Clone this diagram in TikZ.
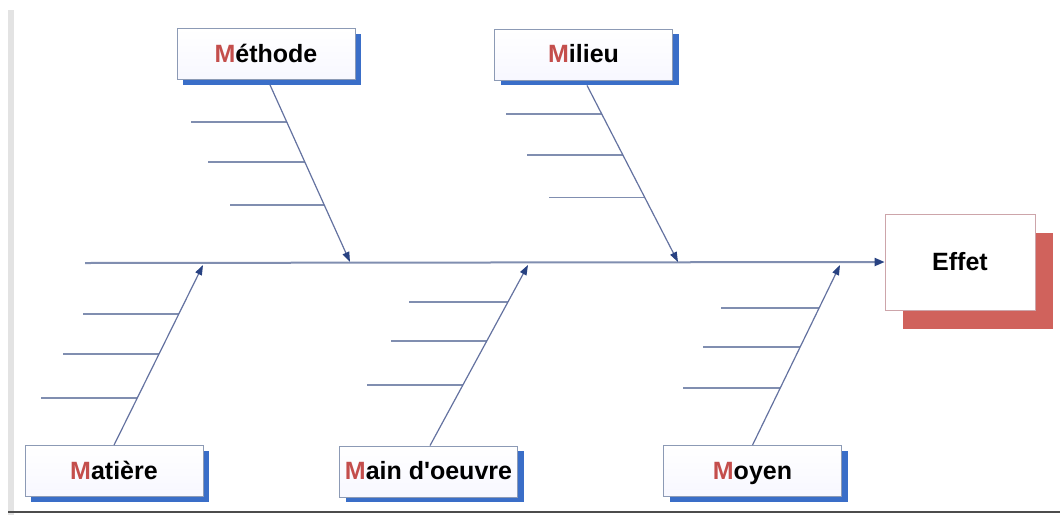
\documentclass[tikz,border=0pt]{standalone}
\usepackage{fontspec}
\setmainfont{Liberation Sans}
\newfontfamily\qfont{Liberation Sans}[Ligatures=ResetAll]
\usetikzlibrary{arrows.meta,shadows}
\definecolor{boxborder}{RGB}{140,154,181}
\definecolor{shadowblue}{RGB}{58,110,200}
\definecolor{shadowred}{RGB}{208,98,92}
\definecolor{redM}{RGB}{196,78,76}
\definecolor{ribc}{RGB}{128,142,176}
\definecolor{bonec}{RGB}{100,114,160}
\definecolor{arrowc}{RGB}{40,66,130}
\definecolor{effborder}{RGB}{205,165,170}
\begin{document}
\begin{tikzpicture}[x=1pt,y=-1pt,
  catbox/.style={draw=boxborder, line width=0.8pt, top color=white, bottom color=blue!3, minimum width=178pt,
    minimum height=51pt, inner sep=0pt, text height=20pt, text depth=4pt,
    font=\fontsize{25}{29}\selectfont\bfseries,
    drop shadow={shadow xshift=6pt, shadow yshift=-5pt, fill=shadowblue, opacity=1}},
  effbox/.style={draw=effborder, line width=0.8pt, fill=white, minimum width=150pt,
    minimum height=96pt, inner sep=0pt, font=\fontsize{25}{29}\selectfont\bfseries,
    drop shadow={shadow xshift=18pt, shadow yshift=-19pt, fill=shadowred, opacity=1}},
  rib/.style={draw=ribc, line width=1.7pt},
  bone/.style={draw=bonec, line width=1.2pt, -{Triangle[length=10pt,width=7pt,color=arrowc]}},
  spine/.style={draw=ribc, line width=2pt, -{Triangle[length=10pt,width=8pt,color=arrowc]}}]
\useasboundingbox (0,0) rectangle (1060,515);
\fill[white] (0,0) rectangle (1060,515);
% frame
\fill[gray!22] (8,10) rectangle (14,515);
\draw[black!70, line width=2pt] (8,511.5) -- (1060,511.5);

% boxes
\node[catbox] (met) at (266,54) {\textcolor{redM}{M}éthode};
\node[catbox] (mil) at (583.5,54.5) {\textcolor{redM}{M}ilieu};
\node[catbox] (mat) at (114,471) {\textcolor{redM}{M}atière};
\node[catbox] (mo) at (428.5,471.5) {\textcolor{redM}{M}ain d{\qfont '}oeuvre};
\node[catbox] (moy) at (752.5,471) {\textcolor{redM}{M}oyen};
\node[effbox] (eff) at (960,262) {Effet};

% spine
\coordinate (sp0) at (85,263);
\draw[spine] (sp0) -- (eff.west);

% spine points
\coordinate (s1) at (350,262);
\coordinate (s2) at (678,262);
\coordinate (s3) at (203,265);
\coordinate (s4) at (528,265);
\coordinate (s5) at (840,265);

% Méthode
\path ([xshift=4pt,yshift=-5pt]met.south) -- (s1)
  coordinate[pos=0.209] (a1) coordinate[pos=0.435] (a2) coordinate[pos=0.678] (a3);
\draw[rib] (a1) -- ++(-96,0);
\draw[rib] (a2) -- ++(-97,0);
\draw[rib] (a3) -- ++(-94,0);
\draw[bone] ([xshift=4pt,yshift=-5pt]met.south) -- (s1);

% Milieu
\path ([xshift=3.5pt,yshift=-5pt]mil.south) -- (s2)
  coordinate[pos=0.163] (b1) coordinate[pos=0.393] (b2) coordinate[pos=0.635] (b3);
\draw[rib] (b1) -- ++(-96,0);
\draw[rib] (b2) -- ++(-96,0);
\draw[rib] (b3) -- ++(-96,0);
\draw[bone] ([xshift=3.5pt,yshift=-5pt]mil.south) -- (s2);

% Matière
\path (mat.north) -- (s3)
  coordinate[pos=0.261] (c1) coordinate[pos=0.506] (c2) coordinate[pos=0.728] (c3);
\draw[rib] (c1) -- ++(-96,0);
\draw[rib] (c2) -- ++(-96,0);
\draw[rib] (c3) -- ++(-96,0);
\draw[bone] (mat.north) -- (s3);

% Main d'oeuvre
\path ([xshift=1.5pt]mo.north) -- (s4)
  coordinate[pos=0.337] (d1) coordinate[pos=0.58] (d2) coordinate[pos=0.796] (d3);
\draw[rib] (d1) -- ++(-96,0);
\draw[rib] (d2) -- ++(-96,0);
\draw[rib] (d3) -- ++(-99,0);
\draw[bone] ([xshift=1.5pt]mo.north) -- (s4);

% Moyen
\path (moy.north) -- (s5)
  coordinate[pos=0.317] (e1) coordinate[pos=0.544] (e2) coordinate[pos=0.761] (e3);
\draw[rib] (e1) -- ++(-97,0);
\draw[rib] (e2) -- ++(-97,0);
\draw[rib] (e3) -- ++(-98,0);
\draw[bone] (moy.north) -- (s5);
\end{tikzpicture}
\end{document}
